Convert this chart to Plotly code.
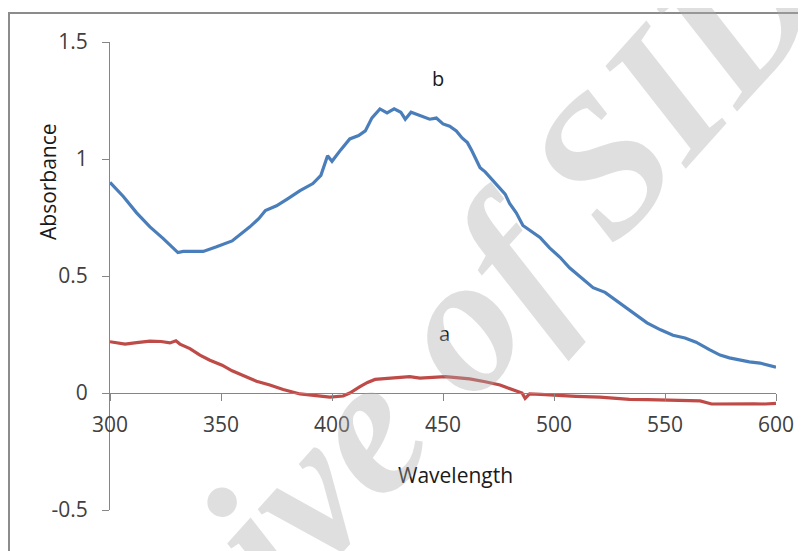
import plotly.graph_objects as go

# Curve b (blue)
wl_b = [300, 306, 312, 318, 324, 330.6, 333, 338, 342, 348, 355, 363, 367, 370, 375, 380, 385.6,
        391.4, 395, 398, 400, 404, 408, 412, 415, 418, 421.6, 424.8, 428, 431, 433, 435.6,
        439.6, 444, 447, 450, 453, 456, 458.6, 461, 463, 466.7, 469, 472.5, 475.7, 478,
        480, 483, 486, 490, 493.7, 498, 502.7, 507, 510, 517.6, 523, 528, 535, 541.9, 548,
        553.6, 559, 564, 570, 574.8, 579, 583.8, 588, 592.8, 600]
abs_b = [0.90, 0.84, 0.77, 0.71, 0.66, 0.60, 0.605, 0.605, 0.605, 0.625, 0.65, 0.71, 0.745, 0.78, 0.80,
         0.83, 0.865, 0.895, 0.93, 1.014, 0.99, 1.04, 1.086, 1.10, 1.12, 1.176, 1.214, 1.197,
         1.214, 1.20, 1.17, 1.20, 1.185, 1.17, 1.175, 1.15, 1.14, 1.12, 1.09, 1.07, 1.035,
         0.963, 0.945, 0.908, 0.873, 0.85, 0.81, 0.77, 0.716, 0.69, 0.665, 0.62, 0.58, 0.535,
         0.51, 0.45, 0.43, 0.396, 0.35, 0.30, 0.27, 0.247, 0.235, 0.217, 0.185, 0.162, 0.15,
         0.14, 0.133, 0.128, 0.11]

# Curve a (red)
wl_a = [300, 306.8, 312, 318, 323, 327, 329.7, 331.5, 336, 340.5, 345, 350.5, 355, 360.8, 366, 372,
        378, 385.6, 392, 399, 405, 408, 412.6, 416, 419.4, 423, 426, 430, 435, 439.6, 445, 451,
        456, 462, 469, 475.7, 479, 482.4, 485.6, 487, 489, 494, 500.5, 510, 520.7, 527, 534,
        542, 550, 558, 565.8, 571, 577, 583.8, 590, 595, 600]
abs_a = [0.219, 0.209, 0.215, 0.222, 0.22, 0.214, 0.223, 0.209, 0.19, 0.162, 0.14, 0.119, 0.095, 0.07,
         0.05, 0.034, 0.015, -0.004, -0.012, -0.018, -0.013, 0.0, 0.027, 0.045, 0.058, 0.06,
         0.063, 0.066, 0.07, 0.064, 0.068, 0.07, 0.066, 0.06, 0.048, 0.034, 0.022, 0.01, 0.0,
         -0.023, -0.004, -0.006, -0.01, -0.014, -0.018, -0.022, -0.027, -0.028, -0.03, -0.032,
         -0.034, -0.047, -0.046, -0.048, -0.046, -0.047, -0.044]

x_ticks = [300, 350, 400, 450, 500, 550, 600]
y_ticks = [-0.5, 0, 0.5, 1, 1.5]
y_tick_text = ["-0.5", "0", "0.5", "1", "1.5"]

BLUE = "#4a7ebb"
RED = "#be4b48"
AXIS = "#868686"
TICKFONT = dict(family="Open Sans", size=21, color="#404040")

# the page body has an 8px margin; plot area lands at screen x 110..776, y 42..510
L, T = 102, 34
W, H = 806, 551
PW, PH = 666, 468

def px(xs):
    return (xs - 110) / PW

def py(ys):
    return (510 - ys) / PH

fig = go.Figure()
fig.add_trace(go.Scatter(x=wl_b, y=abs_b, mode="lines", line=dict(color=BLUE, width=3.2),
                         name="b", showlegend=False))
fig.add_trace(go.Scatter(x=wl_a, y=abs_a, mode="lines", line=dict(color=RED, width=3.2),
                         name="a", showlegend=False))

fig.update_layout(
    width=W, height=H,
    margin=dict(l=L, r=W - L - PW, t=T, b=H - T - PH),
    paper_bgcolor="white", plot_bgcolor="white",
    xaxis=dict(range=[300, 600], tickmode="array", tickvals=x_ticks,
               anchor="free", position=0.25,
               showline=True, linecolor=AXIS, linewidth=1,
               ticks="outside", ticklen=7, tickcolor=AXIS,
               showgrid=False, zeroline=False, tickfont=TICKFONT,
               ticklabelstandoff=6),
    yaxis=dict(range=[-0.5, 1.5], tickmode="array", tickvals=y_ticks, ticktext=y_tick_text,
               showline=True, linecolor=AXIS, linewidth=1,
               ticks="outside", ticklen=7, tickcolor=AXIS,
               showgrid=False, zeroline=False, tickfont=TICKFONT,
               ticklabelstandoff=10),
    shapes=[dict(type="rect", xref="paper", yref="paper",
                 x0=px(9), x1=1.3, y0=-0.4, y1=py(13),
                 line=dict(color="#8c8c8c", width=2), fillcolor="rgba(0,0,0,0)")],
    annotations=[
        dict(text="Absorbance", xref="paper", yref="paper", x=px(48), y=py(182),
             textangle=-90, showarrow=False, xanchor="center", yanchor="middle",
             font=dict(family="Open Sans", size=21, color="#1a1a1a")),
        dict(text="Wavelength", xref="paper", yref="paper", x=px(456), y=py(475),
             showarrow=False, xanchor="center", yanchor="middle",
             font=dict(family="Open Sans", size=21, color="#1a1a1a")),
        dict(text="b", x=447.7, y=1.342, showarrow=False,
             font=dict(family="Open Sans", size=20, color="#1a1a1a")),
        dict(text="a", x=450.5, y=0.256, showarrow=False,
             font=dict(family="Open Sans", size=20, color="#1a1a1a")),
        dict(text="Archive of SID", xref="paper", yref="paper", x=px(371), y=py(418),
             textangle=-48, showarrow=False, xanchor="center", yanchor="middle",
             font=dict(family="Liberation Serif", size=196, color="rgba(170,170,170,0.38)",
                       weight="bold", style="italic")),
    ],
)

fig.write_html("out.html")
